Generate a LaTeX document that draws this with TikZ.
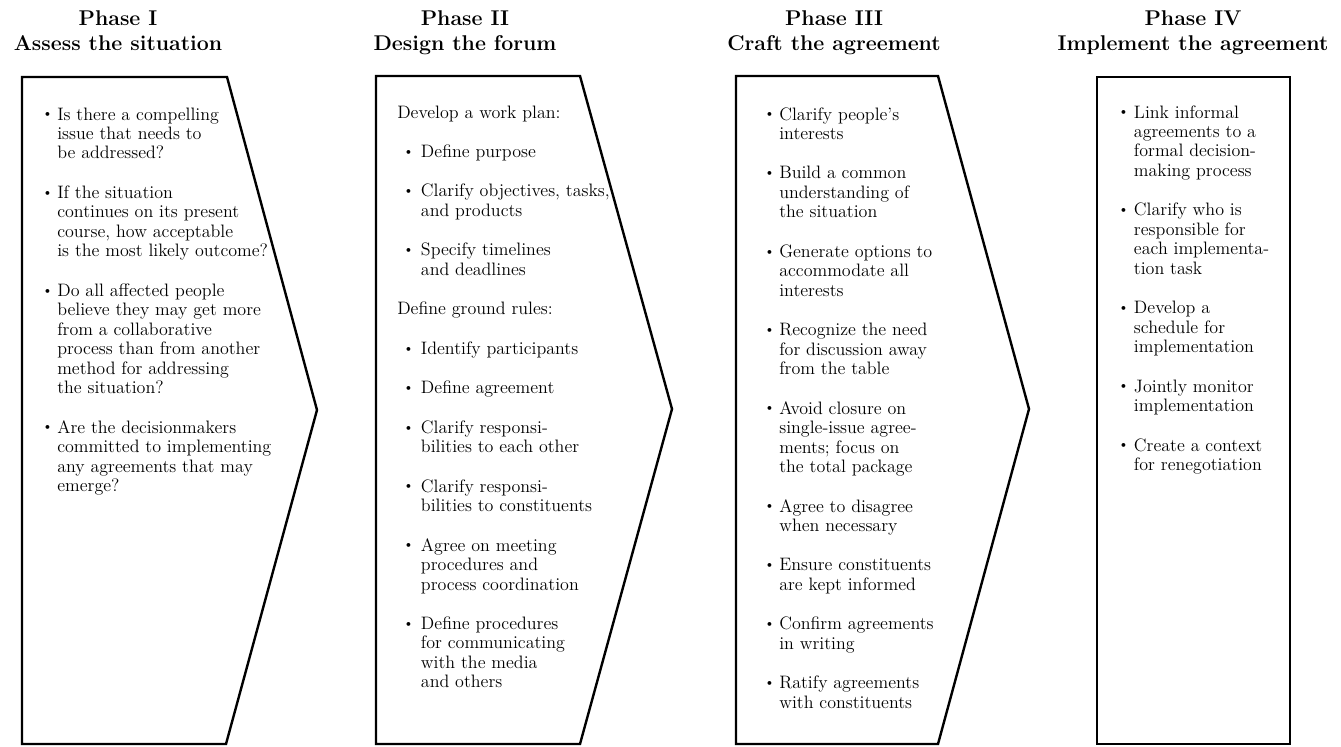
\documentclass[tikz,border=0pt]{standalone}
\usepackage{fontspec}
\newcommand{\bul}{\raisebox{0.12em}{\fontsize{10}{10}\selectfont\textbullet}}
\newlength{\itemgap}
\setlength{\itemgap}{15pt}
\tikzset{
  phase/.style={draw, line width=1.8pt},
  heading/.style={anchor=base, inner sep=0pt, font=\fontsize{16}{18}\selectfont\bfseries},
  steps/.style={anchor=base west, inner sep=0pt, font=\fontsize{13.5}{14.6}\selectfont},
}
\begin{document}
\begin{tikzpicture}[x=0.75pt, y=-0.75pt]
\useasboundingbox (0,0) rectangle (1341,746);

% phase outlines
\draw[phase] (22,77) -- (227,77) -- (317,410) -- (226,744) -- (22,744) -- cycle;
\draw[phase] (376,76) -- (580,76) -- (672,409) -- (580,744) -- (376,744) -- cycle;
\draw[phase] (736,76) -- (938,76) -- (1029,409) -- (938,744) -- (736,744) -- cycle;
\draw[phase] (1097,77) rectangle (1290,744);

% headings
\node[heading] (head1) at (118,26) {\begin{tabular}[t]{@{}c@{}}Phase I\\ Assess the situation\end{tabular}};
\node[heading] (head2) at (465,26) {\begin{tabular}[t]{@{}c@{}}Phase II\\ Design the forum\end{tabular}};
\node[heading] (head3) at (834,26) {\begin{tabular}[t]{@{}c@{}}Phase III\\ Craft the agreement\end{tabular}};
\node[heading] (head4) at (1193,26) {\begin{tabular}[t]{@{}c@{}}Phase IV\\ Implement the agreement\end{tabular}};

% phase I
\node[steps] (steps1) at (42,120) {\begin{tabular}[t]{@{}l@{\hspace{3.5pt}}l@{}}
\bul & Is there a compelling\\
     & issue that needs to\\
     & be addressed?\\[\itemgap]
\bul & If the situation\\
     & continues on its present\\
     & course, how acceptable\\
     & is the most likely outcome?\\[\itemgap]
\bul & Do all affected people\\
     & believe they may get more\\
     & from a collaborative\\
     & process than from another\\
     & method for addressing\\
     & the situation?\\[\itemgap]
\bul & Are the decisionmakers\\
     & committed to implementing\\
     & any agreements that may\\
     & emerge?
\end{tabular}};

% phase II
\node[steps] (steps2) at (397,118) {\begin{tabular}[t]{@{\hspace{4.5pt}}l@{\hspace{5.5pt}}l@{}}
\multicolumn{2}{@{}l@{}}{Develop a work plan:}\\[\itemgap]
\bul & Define purpose\\[\itemgap]
\bul & Clarify objectives, tasks,\\
     & and products\\[\itemgap]
\bul & Specify timelines\\
     & and deadlines\\[\itemgap]
\multicolumn{2}{@{}l@{}}{Define ground rules:}\\[\itemgap]
\bul & Identify participants\\[\itemgap]
\bul & Define agreement\\[\itemgap]
\bul & Clarify responsi-\\
     & bilities to each other\\[\itemgap]
\bul & Clarify responsi-\\
     & bilities to constituents\\[\itemgap]
\bul & Agree on meeting\\
     & procedures and\\
     & process coordination\\[\itemgap]
\bul & Define procedures\\
     & for communicating\\
     & with the media\\
     & and others
\end{tabular}};

% phase III
\node[steps] (steps3) at (764,120) {\begin{tabular}[t]{@{}l@{\hspace{3.5pt}}l@{}}
\bul & Clarify people's\\
     & interests\\[\itemgap]
\bul & Build a common\\
     & understanding of\\
     & the situation\\[\itemgap]
\bul & Generate options to\\
     & accommodate all\\
     & interests\\[\itemgap]
\bul & Recognize the need\\
     & for discussion away\\
     & from the table\\[\itemgap]
\bul & Avoid closure on\\
     & single-issue agree-\\
     & ments; focus on\\
     & the total package\\[\itemgap]
\bul & Agree to disagree\\
     & when necessary\\[\itemgap]
\bul & Ensure constituents\\
     & are kept informed\\[\itemgap]
\bul & Confirm agreements\\
     & in writing\\[\itemgap]
\bul & Ratify agreements\\
     & with constituents
\end{tabular}};

% phase IV
\node[steps] (steps4) at (1118,118) {\begin{tabular}[t]{@{}l@{\hspace{4pt}}l@{}}
\bul & Link informal\\
     & agreements to a\\
     & formal decision-\\
     & making process\\[\itemgap]
\bul & Clarify who is\\
     & responsible for\\
     & each implementa-\\
     & tion task\\[\itemgap]
\bul & Develop a\\
     & schedule for\\
     & implementation\\[\itemgap]
\bul & Jointly monitor\\
     & implementation\\[\itemgap]
\bul & Create a context\\
     & for renegotiation
\end{tabular}};
\end{tikzpicture}
\end{document}
